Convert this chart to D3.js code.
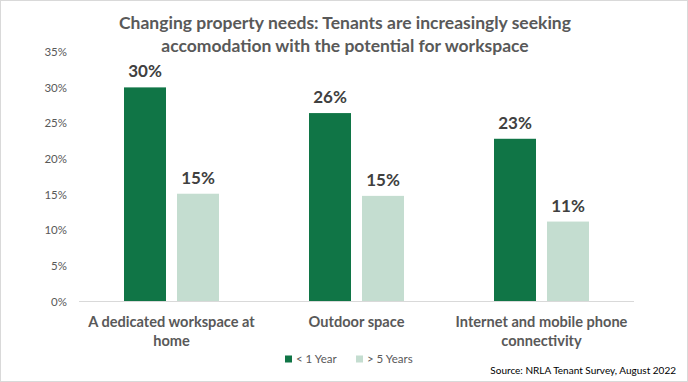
<!DOCTYPE html>
<html><head><meta charset="utf-8">
<script src="https://cdn.jsdelivr.net/npm/d3@7"></script>
<style>
html,body{margin:0;padding:0;background:#fff;}
svg{display:block;font-family:Lato, "Open Sans", sans-serif;}
</style></head>
<body>
<script>
const titleLines = ["Changing property needs: Tenants are increasingly seeking", "accomodation with the potential for workspace"];
const categories = ["A dedicated workspace at home", "Outdoor space", "Internet and mobile phone connectivity"];
const categoryLines = [["A dedicated workspace at", "home"], ["Outdoor space"], ["Internet and mobile phone", "connectivity"]];
const seriesNames = ["< 1 Year", "> 5 Years"];
const lessThan1Year = [0.300, 0.264, 0.228];
const moreThan5Years = [0.151, 0.148, 0.112];
const yTicks = [0, 0.05, 0.10, 0.15, 0.20, 0.25, 0.30, 0.35];
const sourceText = "Source: NRLA Tenant Survey, August 2022";

const colors = ["#107546", "#c4ddd0"];
const series = [lessThan1Year, moreThan5Years];

const W = 688, H = 382;
const svg = d3.select("body").append("svg").attr("width", W).attr("height", H);

svg.append("rect").attr("x", 0.5).attr("y", 0.5).attr("width", W - 1).attr("height", H - 1)
  .attr("fill", "#fff").attr("stroke", "#d9d9d9");

const x = d3.scaleBand().domain(categories).range([79, 634]);
const xs = d3.scaleBand().domain(seriesNames).range([45, 140]).paddingInner(11 / 53);
const y = d3.scaleLinear().domain([0, 0.35]).range([301.5, 51.7]);

// title
svg.append("g").selectAll("text").data(titleLines).join("text")
  .attr("x", 345).attr("y", (d, i) => 29 + i * 23)
  .attr("text-anchor", "middle").attr("font-weight", "bold").attr("font-size", 17.5)
  .attr("fill", "#595959").text(d => d);

// y axis labels
const yAxis = d3.axisLeft(y).tickValues(yTicks).tickFormat(d3.format(".0%")).tickSize(0).tickPadding(0);
const ya = svg.append("g").attr("transform", "translate(67,0)").call(yAxis);
ya.select(".domain").remove();
ya.selectAll("text").attr("font-family", "Lato, sans-serif").attr("font-size", 11.5).attr("fill", "#595959");

// bars
const groups = svg.append("g").selectAll("g").data(categories).join("g")
  .attr("transform", d => `translate(${x(d)},0)`);
groups.selectAll("rect").data((c, i) => seriesNames.map((s, j) => ({s, v: series[j][i], j}))).join("rect")
  .attr("x", d => xs(d.s)).attr("width", xs.bandwidth())
  .attr("y", d => y(d.v)).attr("height", d => y(0) - y(d.v))
  .attr("fill", d => colors[d.j]);
groups.selectAll("text.lbl").data((c, i) => seriesNames.map((s, j) => ({s, v: series[j][i], j}))).join("text")
  .attr("class", "lbl")
  .attr("x", d => xs(d.s) + xs.bandwidth() / 2).attr("y", d => y(d.v) - 10)
  .attr("text-anchor", "middle").attr("font-weight", "bold").attr("font-size", 17)
  .attr("fill", "#404040").text(d => d3.format(".0%")(d.v));

// x axis line
svg.append("line").attr("x1", x.range()[0]).attr("x2", x.range()[1])
  .attr("y1", y(0)).attr("y2", y(0)).attr("stroke", "#d9d9d9").attr("stroke-width", 1);

// category labels
categories.forEach((c, i) => {
  svg.append("g").selectAll("text").data(categoryLines[i]).join("text")
    .attr("x", x(c) + x.bandwidth() / 2).attr("y", (d, k) => 327 + k * 19)
    .attr("text-anchor", "middle").attr("font-weight", "bold").attr("font-size", 14.6)
    .attr("fill", "#595959").text(d => d);
});

// legend
const legendX = [285, 356];
const lg = svg.append("g").selectAll("g").data(seriesNames).join("g")
  .attr("transform", (d, i) => `translate(${legendX[i]},0)`);
lg.append("rect").attr("x", 0).attr("y", 355.5).attr("width", 7).attr("height", 7).attr("fill", (d, i) => colors[i]);
lg.append("text").attr("x", 11).attr("y", 363).attr("font-size", 11.5).attr("fill", "#595959").text(d => d);

// source
svg.append("text").attr("x", 676).attr("y", 374).attr("text-anchor", "end")
  .attr("font-size", 10).attr("fill", "#000").text(sourceText);
</script>
</body></html>
